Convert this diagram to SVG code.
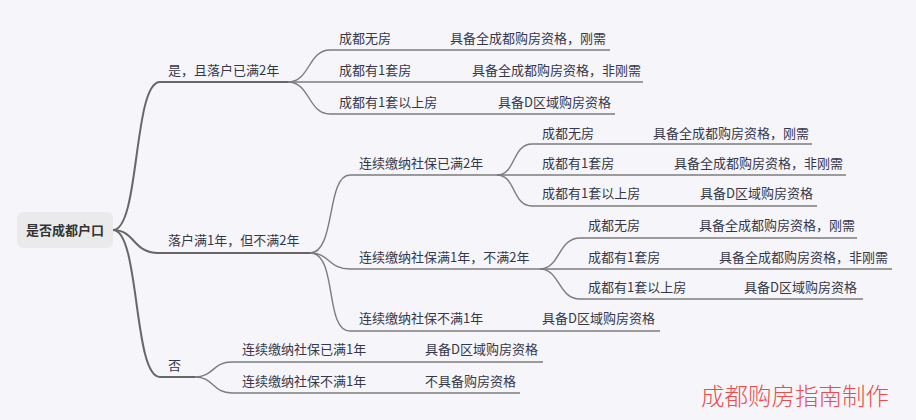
<svg xmlns="http://www.w3.org/2000/svg" width="916" height="420" viewBox="0 0 916 420">
<style>
.t{font-family:"Noto Sans CJK SC","Liberation Sans",sans-serif;font-size:13px;fill:#35384a}
.root{font-family:"Noto Sans CJK SC","Liberation Sans",sans-serif;font-size:13px;font-weight:bold;fill:#333}
.m{fill:none;stroke:#676767;stroke-width:2}
.s{fill:none;stroke:#7c7c7c;stroke-width:1.4}
.wm{font-family:"Noto Sans CJK SC","Liberation Sans",sans-serif;font-size:23.5px;font-weight:300;fill:#f04a4a}
</style>
<rect x="0" y="0" width="916" height="420" fill="#f5f5fa"/>
<g id="connectors">
<path class="m" d="M113,230 C140,230 133,82 160,82 L288,82"/>
<path class="m" d="M113,230 C135,230 133,253 158,253 L310,253"/>
<path class="m" d="M113,230 C140,230 133,377 160,377 L195,377"/>
<path class="s" d="M288,82 C310,82 308,50 330,50 L610,50"/>
<path class="s" d="M288,82 L643,82"/>
<path class="s" d="M288,82 C310,82 308,114 330,114 L615,114"/>
<path class="s" d="M310,253 C336,253 326,175 350,175 L497,175"/>
<path class="s" d="M310,253 C330,253 328,269 350,269 L540,269"/>
<path class="s" d="M310,253 C338,253 324,331 350,331 L660,331"/>
<path class="s" d="M497,175 C516,175 512,144 532,144 L812,144"/>
<path class="s" d="M497,175 L846,175"/>
<path class="s" d="M497,175 C516,175 512,206 532,206 L817,206"/>
<path class="s" d="M540,269 C560,269 558,238 580,238 L857,238"/>
<path class="s" d="M540,269 L892,269"/>
<path class="s" d="M540,269 C560,269 558,299 580,299 L863,299"/>
<path class="s" d="M195,377 C214,377 212,362 232,362 L543,362"/>
<path class="s" d="M195,377 C214,377 212,393 232,393 L520,393"/>
</g>
<g id="root">
<rect x="17" y="212" width="96" height="36" rx="6" fill="#eaeaea"/>
<text class="root" x="65" y="234.5" text-anchor="middle">是否成都户口</text>
</g>
<g id="b1"><text class="t" x="168" y="74.5">是，且落户已满2年</text></g>
<g id="b1c1"><text class="t" x="339" y="42.5">成都无房</text><text class="t" x="450" y="42.5">具备全成都购房资格，刚需</text></g>
<g id="b1c2"><text class="t" x="339" y="74.5">成都有1套房</text><text class="t" x="472" y="74.5">具备全成都购房资格，非刚需</text></g>
<g id="b1c3"><text class="t" x="339" y="106.5">成都有1套以上房</text><text class="t" x="498" y="106.5">具备D区域购房资格</text></g>
<g id="b2"><text class="t" x="168" y="244.5">落户满1年，但不满2年</text></g>
<g id="b2a"><text class="t" x="359" y="167.5">连续缴纳社保已满2年</text></g>
<g id="b2a1"><text class="t" x="542" y="137.5">成都无房</text><text class="t" x="653" y="137.5">具备全成都购房资格，刚需</text></g>
<g id="b2a2"><text class="t" x="542" y="167.5">成都有1套房</text><text class="t" x="674" y="167.5">具备全成都购房资格，非刚需</text></g>
<g id="b2a3"><text class="t" x="542" y="197.5">成都有1套以上房</text><text class="t" x="700" y="197.5">具备D区域购房资格</text></g>
<g id="b2b"><text class="t" x="359" y="261.5">连续缴纳社保满1年，不满2年</text></g>
<g id="b2b1"><text class="t" x="588" y="229.5">成都无房</text><text class="t" x="699" y="229.5">具备全成都购房资格，刚需</text></g>
<g id="b2b2"><text class="t" x="588" y="261.5">成都有1套房</text><text class="t" x="719" y="261.5">具备全成都购房资格，非刚需</text></g>
<g id="b2b3"><text class="t" x="588" y="291.5">成都有1套以上房</text><text class="t" x="744" y="291.5">具备D区域购房资格</text></g>
<g id="b2c"><text class="t" x="359" y="322.5">连续缴纳社保不满1年</text><text class="t" x="542" y="322.5">具备D区域购房资格</text></g>
<g id="b3"><text class="t" x="168" y="369.5">否</text></g>
<g id="b3a"><text class="t" x="242" y="353.5">连续缴纳社保已满1年</text><text class="t" x="425" y="353.5">具备D区域购房资格</text></g>
<g id="b3b"><text class="t" x="242" y="385.5">连续缴纳社保不满1年</text><text class="t" x="425" y="385.5">不具备购房资格</text></g>
<text class="wm" x="701" y="405">成都购房指南制作</text>
</svg>
